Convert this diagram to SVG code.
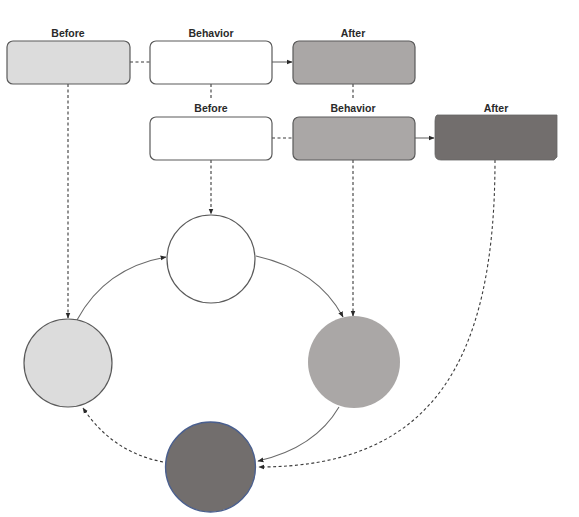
<svg xmlns="http://www.w3.org/2000/svg" width="579" height="517" viewBox="0 0 579 517">
<defs>
<style>
.lbl{font-family:"Liberation Sans",Arial,sans-serif;font-weight:bold;font-size:10.5px;fill:#2a2a2a;text-anchor:middle}
.box{stroke:#5a5a5a;stroke-width:1.2}
.solid{fill:none;stroke:#6a6a6a;stroke-width:1.1}
.dash{fill:none;stroke:#3a3a3a;stroke-width:1.1;stroke-dasharray:3,2.5}
</style>
<marker id="ah" viewBox="0 0 10 10" refX="9" refY="5" markerWidth="6" markerHeight="6" orient="auto" markerUnits="userSpaceOnUse">
<path d="M0,1 L10,5 L0,9 z" fill="#2a2a2a"/>
</marker>
</defs>
<rect width="579" height="517" fill="#ffffff"/>
<g id="connectors">
<line class="dash" x1="130" y1="62" x2="150" y2="62"/>
<line class="solid" x1="272" y1="62" x2="292" y2="62" stroke="#2a2a2a" marker-end="url(#ah)"/>
<line class="dash" x1="211" y1="84" x2="211" y2="100"/>
<line class="dash" x1="353" y1="84" x2="353" y2="100"/>
<line class="dash" x1="272" y1="138" x2="293" y2="138"/>
<line class="solid" x1="415" y1="138" x2="434" y2="138" stroke="#2a2a2a" marker-end="url(#ah)"/>
<line class="dash" x1="68" y1="84" x2="68" y2="318" marker-end="url(#ah)"/>
<line class="dash" x1="211" y1="160" x2="211" y2="214" marker-end="url(#ah)"/>
<line class="dash" x1="353" y1="160" x2="353" y2="316" marker-end="url(#ah)"/>
<path class="dash" d="M495,160 C495,365 430,467 259,467" marker-end="url(#ah)"/>
<path class="solid" d="M77,320 Q105,268 166,257" marker-end="url(#ah)"/>
<path class="solid" d="M256,256 Q318,270 343,317" marker-end="url(#ah)"/>
<path class="solid" d="M339,407 Q315,448 258,461" marker-end="url(#ah)"/>
<path class="dash" d="M163,462 Q112,452 83,408" marker-end="url(#ah)"/>
</g>
<g id="box-before-1">
<text class="lbl" x="68" y="37">Before</text>
<rect class="box" x="7" y="41" width="123" height="43" rx="6" fill="#dcdcdc"/>
</g>
<g id="box-behavior-1">
<text class="lbl" x="211" y="37">Behavior</text>
<rect class="box" x="150" y="41" width="122" height="43" rx="6" fill="#ffffff"/>
</g>
<g id="box-after-1">
<text class="lbl" x="353" y="37">After</text>
<rect class="box" x="293" y="41" width="122" height="43" rx="6" fill="#aaa7a6"/>
</g>
<g id="box-before-2">
<text class="lbl" x="211" y="112">Before</text>
<rect class="box" x="150" y="117" width="122" height="43" rx="6" fill="#ffffff"/>
</g>
<g id="box-behavior-2">
<text class="lbl" x="353" y="112">Behavior</text>
<rect class="box" x="293" y="117" width="122" height="43" rx="6" fill="#aaa7a6"/>
</g>
<g id="box-after-2">
<text class="lbl" x="496" y="112">After</text>
<path d="M437,115 L557,115 L557,157 L554,160 L441,160 Q435,160 435,154 L435,121 Q435,116 437,115 z" fill="#726e6d" stroke="#666" stroke-width="0.8"/>
</g>
<g id="circle-top">
<circle cx="211" cy="259" r="44" fill="#ffffff" stroke="#5a5a5a" stroke-width="1.2"/>
</g>
<g id="circle-left">
<circle cx="68" cy="363" r="44" fill="#dcdcdc" stroke="#5a5a5a" stroke-width="1.2"/>
</g>
<g id="circle-right">
<circle cx="354" cy="362" r="46" fill="#aaa7a6"/>
</g>
<g id="circle-bottom">
<circle cx="210.5" cy="467" r="45" fill="#726e6d" stroke="#4a5f8e" stroke-width="1.3"/>
</g>
</svg>
